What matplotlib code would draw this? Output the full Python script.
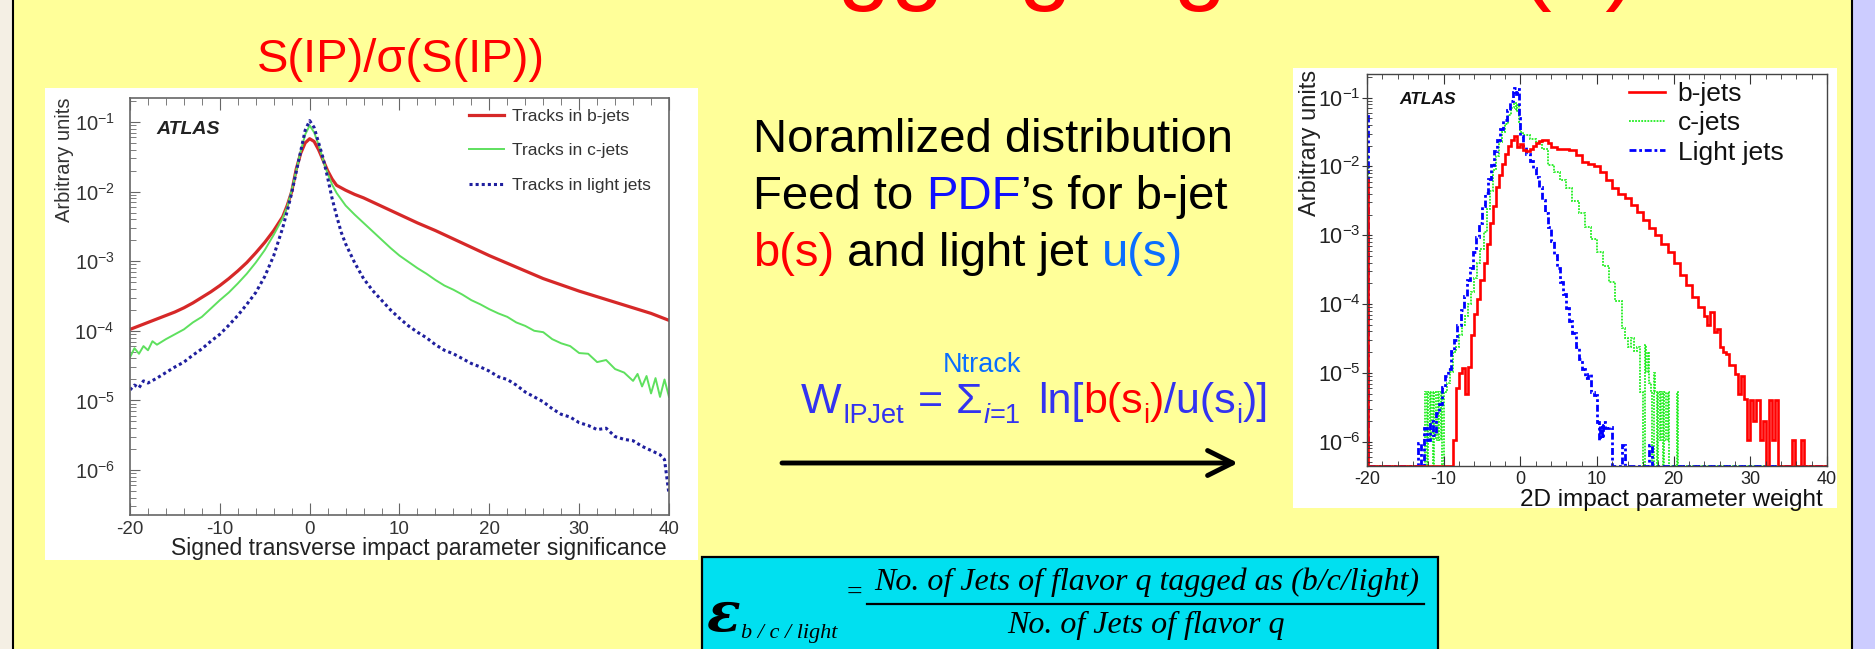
import numpy as np
import matplotlib
matplotlib.use("Agg")
import matplotlib.pyplot as plt
from matplotlib.patches import Rectangle
from matplotlib.lines import Line2D
from matplotlib.ticker import MultipleLocator, LogLocator, FixedLocator, FixedFormatter, NullFormatter

plt.rcParams["font.family"] = ["Liberation Sans", "DejaVu Sans"]
plt.rcParams["mathtext.fontset"] = "custom"
plt.rcParams["mathtext.rm"] = "Liberation Sans"
plt.rcParams["mathtext.it"] = "Liberation Sans:italic"
plt.rcParams["mathtext.bf"] = "Liberation Sans:bold"
plt.rcParams["mathtext.default"] = "regular"
plt.rcParams["axes.unicode_minus"] = False

# signed IP significance, log10 of arbitrary units
sig_x_b = [-20, -19, -18, -17, -16, -15, -14, -13, -12, -11, -10, -9, -8, -7, -6, -5, -4, -3,
           -2.5, -2, -1.5, -1, -0.5, 0, 0.5, 1, 1.5, 2, 2.5, 3, 4, 5, 6, 7, 8, 9, 10,
           12, 14, 16, 18, 20, 22, 24, 26, 28, 30, 32, 34, 36, 38, 40]
sig_b = [-3.98, -3.93, -3.88, -3.83, -3.78, -3.73, -3.67, -3.60, -3.52, -3.44, -3.35, -3.25, -3.14, -3.02, -2.88, -2.73, -2.56, -2.36,
         -2.20, -2.00, -1.68, -1.45, -1.30, -1.24, -1.28, -1.40, -1.55, -1.70, -1.82, -1.91,
         -1.98, -2.04, -2.09, -2.15, -2.21, -2.27, -2.33,
         -2.45, -2.56, -2.68, -2.80, -2.92, -3.03, -3.14, -3.25, -3.34, -3.43, -3.51, -3.59, -3.67, -3.75, -3.85]

sig_x_c = [-20, -19.5, -19, -18.5, -18, -17.5, -17, -16, -15, -14, -13, -12, -11, -10, -9, -8, -7, -6, -5, -4, -3,
           -2.5, -2, -1.5, -1, -0.5, 0, 0.5, 1, 1.5, 2, 2.5, 3,
           4, 5, 6, 7, 8, 9, 10, 11, 12, 13, 14, 15, 16, 17, 18, 19, 20, 21, 22, 23, 24, 25, 26, 27, 28, 29, 30,
           31, 32, 33, 34, 35, 36, 36.5, 37, 37.5, 38, 38.5, 39, 39.5, 40]
sig_c = [-4.38, -4.25, -4.33, -4.22, -4.28, -4.15, -4.20, -4.12, -4.05, -3.98, -3.88, -3.80, -3.68, -3.56, -3.45, -3.32, -3.18, -3.02, -2.84, -2.62, -2.38,
         -2.22, -1.98, -1.70, -1.42, -1.18, -1.05, -1.15, -1.33, -1.55, -1.74, -1.90, -2.02,
         -2.20, -2.33, -2.45, -2.57, -2.69, -2.81, -2.92, -3.01, -3.10, -3.18, -3.27, -3.35, -3.41, -3.48, -3.56, -3.62, -3.69,
         -3.75, -3.80, -3.88, -3.93, -4.00, -4.02, -4.12, -4.18, -4.22, -4.32,
         -4.33, -4.45, -4.42, -4.55, -4.60, -4.72, -4.62, -4.80, -4.65, -4.90, -4.68, -4.95, -4.70, -4.95]

sig_x_l = [-20, -19.5, -19, -18.5, -18, -17, -16, -15, -14, -13, -12, -11, -10, -9, -8, -7, -6, -5, -4, -3,
           -2.5, -2, -1.5, -1, -0.5, 0, 0.5, 1, 1.5, 2, 2.5, 3, 3.5, 4,
           5, 6, 7, 8, 9, 10, 11, 12, 13, 14, 15, 16, 17, 18, 19, 20, 21, 22, 23, 24, 25, 26, 27, 28, 29, 30,
           31, 32, 33, 34, 35, 36, 37, 38, 39, 39.5, 40]
sig_l = [-4.85, -4.78, -4.82, -4.72, -4.75, -4.68, -4.60, -4.52, -4.45, -4.35, -4.26, -4.15, -4.05, -3.92, -3.78, -3.62, -3.45, -3.22, -2.92, -2.52,
         -2.28, -2.02, -1.72, -1.42, -1.12, -0.98, -1.08, -1.30, -1.52, -1.80, -2.10, -2.35, -2.58, -2.75,
         -3.02, -3.25, -3.42, -3.56, -3.70, -3.82, -3.93, -4.02, -4.10, -4.20, -4.28, -4.33, -4.40, -4.47, -4.52, -4.58,
         -4.66, -4.70, -4.78, -4.88, -4.95, -5.02, -5.12, -5.20, -5.24, -5.32,
         -5.36, -5.42, -5.40, -5.52, -5.56, -5.58, -5.66, -5.72, -5.78, -5.85, -6.35]

sig_labels = ["Tracks in b-jets", "Tracks in c-jets", "Tracks in light jets"]

# 2D IP weight histograms: bin edges and log10 contents (None = empty bin)
w_edges_b = [-20, -19.9, -8.8, -8.4, -8.0, -7.6, -7.2, -6.8, -6.4, -6.0, -5.6, -5.2, -4.8, -4.4, -4.0, -3.6, -3.2,
             -2.8, -2.4, -2.0, -1.6, -1.2, -0.8, -0.4, 0.0, 0.4, 0.8, 1.2, 1.6, 2.0, 2.4, 2.8, 3.2, 3.6, 4.0,
             4.8, 5.6, 6.4, 7.2, 8.0, 8.8, 9.6, 10.4, 11.2, 12.0, 12.8, 13.6, 14.4, 15.2, 16.0, 16.8, 17.6,
             18.4, 19.2, 20.0, 20.8, 21.6, 22.4, 23.2, 24.0, 24.4, 24.8, 25.2, 25.6, 26.0, 26.4, 26.8, 27.2,
             27.6, 28.0, 28.4, 28.8, 29.2, 29.6, 30.0, 30.4, 30.8, 31.2, 31.6, 32.0, 32.4, 32.8, 33.2, 33.6,
             35.4, 35.8, 36.6, 37.0, 40]
w_b = [-2.2, None, -5.98,
       -5.22, -5.00, -4.93, -5.30, -4.92, -4.45, -4.15, -3.92, -3.65, -3.40, -3.12, -2.82, -2.58, -2.30, -2.12,
       -1.96, -1.82, -1.70, -1.62, -1.56, -1.72, -1.68, -1.76, -1.78, -1.74, -1.70, -1.66, -1.63, -1.61, -1.62, -1.66,
       -1.72, -1.75, -1.74, -1.76, -1.84, -1.93, -1.97, -2.00, -2.08, -2.20, -2.32, -2.40, -2.46, -2.56, -2.66,
       -2.78, -2.90, -3.00, -3.12, -3.24, -3.40, -3.58, -3.72, -3.90, -4.04,
       -4.18, -4.30, -4.12, -4.40, -4.36, -4.62, -4.70, -4.72, -4.88, -4.88, -5.02, -5.30, -5.05, -5.38,
       -5.98, -5.40, -5.70, -5.40, -5.98, -5.70, None, -5.40, -5.98, -5.40,
       None, -5.98, None, -5.98, None]

w_edges_c = [-20, -19.9, -12.4, -12.2, -12.0, -11.8, -11.6, -11.4, -11.2, -11.0, -10.8, -10.6, -10.4, -10.2, -10.0,
             -9.6, -9.2, -8.8, -8.4, -8.0, -7.6, -7.2, -6.8, -6.4, -6.0, -5.6, -5.2, -4.8, -4.4, -4.0, -3.6, -3.2,
             -2.8, -2.4, -2.0, -1.6, -1.2, -0.8, -0.6, -0.4, -0.2, 0.0, 0.4, 1.2, 2.0, 2.8, 3.6, 4.4, 5.2, 6.0,
             6.8, 7.6, 8.4, 9.2, 10.0, 10.8, 11.6, 12.4, 13.2, 13.6, 14.0, 14.4, 14.8, 15.2, 15.6, 16.0, 16.2,
             16.4, 16.6, 16.8, 17.0, 17.2, 17.4, 17.6, 17.8, 18.0, 18.2, 18.4, 18.6, 18.8, 19.0, 19.2, 19.4,
             20.4, 20.6, 40]
w_c = [-1.85, None,
       -5.28, None, -5.28, -5.98, -5.28, None, -5.28, -5.98, -5.28, -5.98, -5.28, None,
       -5.28, -5.15, -4.98, -4.70, -4.62, -4.45, -4.30, -4.18, -4.00, -3.82, -3.62, -3.40, -3.20, -2.95,
       -2.62, -2.35, -2.05, -1.85, -1.65, -1.50, -1.38, -1.25, -1.15,
       -1.08, -1.20, -1.10, -1.35, -1.50, -1.54,
       -1.60, -1.64, -1.74, -1.98, -2.08, -2.20, -2.32, -2.50, -2.68, -2.88, -3.05, -3.25, -3.45, -3.68, -3.95,
       -4.35, -4.50, -4.62, -4.50, -4.68, -4.62, -5.28,
       None, -4.60, -4.98, -4.70, -5.15, -5.28, None, -5.00, -5.28, None, -5.28, -5.98, -5.28, None,
       -5.28, -5.98, -5.28, None, -5.28, None]

w_edges_l = [-20, -19.9, -13.4, -13.0, -12.6, -12.2, -11.8, -11.4, -11.0, -10.6, -10.2, -9.8, -9.4, -9.0, -8.6,
             -8.2, -7.8, -7.4, -7.0, -6.6, -6.2, -5.8, -5.4, -5.0, -4.6, -4.2, -3.8, -3.4, -3.0, -2.6, -2.2,
             -1.8, -1.4, -1.0, -0.8, -0.6, -0.4, -0.2, 0.0, 0.4, 0.8, 1.2, 1.6, 2.0, 2.4, 2.8, 3.2, 3.6, 4.0,
             4.4, 4.8, 5.2, 5.6, 6.0, 6.4, 6.8, 7.2, 7.6, 8.0, 8.4, 8.8, 9.2, 9.6, 10.0, 10.2, 10.4, 10.6,
             10.8, 11.0, 11.6, 12.0, 13.2, 13.6, 16.8, 17.2, 40]
w_l = [-1.27, None,
       -6.02, None, -5.80, -5.98, -5.70, -5.90, -5.58, -5.45, -5.20, -5.05, -4.95, -4.68, -4.52, -4.30, -4.08,
       -3.88, -3.65, -3.48, -3.25, -3.02, -2.82, -2.58, -2.38, -2.18, -1.98, -1.78, -1.62, -1.46, -1.32, -1.18, -1.05,
       -0.92, -0.86, -0.95, -0.88, -1.30,
       -1.55, -1.72, -1.82, -1.92, -2.02, -2.15, -2.30, -2.48, -2.68, -2.88, -3.08, -3.28, -3.48, -3.68, -3.86,
       -4.05, -4.24, -4.42, -4.62, -4.80, -4.95, -5.08, -5.02, -5.28, -5.32,
       -5.72, -5.98, -5.75, -5.95, -5.72,
       -5.80, -5.78, None, -6.05, None, -6.05, None]

w_labels = ["b-jets", "c-jets", "Light jets"]

decades = [1e-6, 1e-5, 1e-4, 1e-3, 1e-2, 1e-1]
decade_labels = ["$10^{-6}$", "$10^{-5}$", "$10^{-4}$", "$10^{-3}$", "$10^{-2}$", "$10^{-1}$"]

YELLOW = "#ffff99"
RED = "#ff0000"
BLUE = "#1010ff"
AZURE = "#0a6eff"
FBLUE = "#3333f0"

W, H = 1875, 649
fig = plt.figure(figsize=(W / 100, H / 100), dpi=100, facecolor=YELLOW)
bg = fig.add_axes([0, 0, 1, 1])
bg.set_xlim(0, W)
bg.set_ylim(H, 0)
bg.axis("off")
rend = fig.canvas.get_renderer()


def px_axes(l, t, r, b):
    return fig.add_axes([l / W, 1 - b / H, (r - l) / W, (b - t) / H])


def to_vals(exps, floor):
    return np.array([floor if e is None else 10.0 ** e for e in exps])


# slide frame
bg.add_patch(Rectangle((0, 0), 12, H, fc="#f4efe4", ec="none"))
bg.plot([13, 13], [0, H], color="black", lw=1.5)
bg.add_patch(Rectangle((1853, 0), 22, H, fc="#ccccff", ec="none"))
bg.plot([1852, 1852], [0, H], color="black", lw=1.5)

bg.text(672, -8, "b-tagging algorithm (II)", color=RED, fontsize=69, va="baseline")
bg.text(257, 72, "S(IP)/σ(S(IP))", color=RED, fontsize=34, va="baseline")

# ---------------- left panel ----------------
bg.add_patch(Rectangle((45, 88), 653, 472, fc="white", ec="none"))
ax1 = px_axes(130, 98, 669, 515)
ax1.set_facecolor("white")
lb, = ax1.plot(sig_x_b, 10.0 ** np.array(sig_b), color="#d62828", lw=2.3)
lc, = ax1.plot(sig_x_c, 10.0 ** np.array(sig_c), color="#5ee05e", lw=1.4)
ll, = ax1.plot(sig_x_l, 10.0 ** np.array(sig_l), color="#1f1f9e", lw=2.2, ls=(0, (1, 1)))
ax1.set_yscale("log")
ax1.set_xlim(-20, 40)
ax1.set_ylim(10 ** -6.647, 10 ** -0.655)
ax1.xaxis.set_major_locator(MultipleLocator(10))
ax1.xaxis.set_minor_locator(MultipleLocator(2))
ax1.yaxis.set_major_locator(FixedLocator(decades))
ax1.yaxis.set_major_formatter(FixedFormatter(decade_labels))
ax1.yaxis.set_minor_locator(LogLocator(base=10, subs=np.arange(2, 10)))
ax1.yaxis.set_minor_formatter(NullFormatter())
ax1.tick_params(axis="x", which="both", direction="in", top=True, color="#666666",
                labelsize=13.5, labelcolor="#333333", pad=4.5)
ax1.tick_params(axis="x", which="major", length=8.5)
ax1.tick_params(axis="x", which="minor", length=5)
ax1.tick_params(axis="y", which="both", direction="in", color="#666666",
                labelsize=14.5, labelcolor="#333333", pad=11)
ax1.tick_params(axis="y", which="major", length=7)
ax1.tick_params(axis="y", which="minor", length=4.3)
for s in ax1.spines.values():
    s.set_color("#666666")
    s.set_linewidth(1.2)
ax1.text(156, 130, "ATLAS", transform=bg.transData, fontsize=14, weight="bold",
         style="italic", va="center", color="#222222")
ax1.legend([lb, lc, ll], sig_labels, loc="upper left", bbox_to_anchor=(469, 109),
           bbox_transform=bg.transData, frameon=False, borderpad=0, borderaxespad=0,
           fontsize=12.5, handlelength=2.0, handletextpad=0.45, labelspacing=1.1,
           labelcolor="#333333")
bg.text(667, 555, "Signed transverse impact parameter significance", ha="right",
        va="baseline", fontsize=16.5, color="#222222")
bg.text(65, 98, "Arbitrary units", rotation=90, ha="center", va="top", fontsize=14.5,
        color="#333333")

# ---------------- right panel ----------------
bg.add_patch(Rectangle((1293, 68), 544, 440, fc="white", ec="none"))
ax2 = px_axes(1367, 74, 1827, 466)
ax2.set_facecolor("white")
ymin_r = 10 ** -6.353
ax2.stairs(to_vals(w_c, ymin_r), w_edges_c, baseline=None, color="#22ee22", lw=1.3, ls=(0, (1, 0.7)))
ax2.stairs(to_vals(w_l, ymin_r), w_edges_l, baseline=None, color="#0000ff", lw=2.0, ls=(0, (2.5, 1, 1, 1)))
ax2.stairs(to_vals(w_b, ymin_r), w_edges_b, baseline=None, color=RED, lw=1.9)
ax2.set_yscale("log")
ax2.set_xlim(-20, 40)
ax2.set_ylim(ymin_r, 10 ** -0.656)
ax2.xaxis.set_major_locator(MultipleLocator(10))
ax2.xaxis.set_minor_locator(MultipleLocator(2))
ax2.yaxis.set_major_locator(FixedLocator(decades))
ax2.yaxis.set_major_formatter(FixedFormatter(decade_labels))
ax2.yaxis.set_minor_locator(LogLocator(base=10, subs=np.arange(2, 10)))
ax2.yaxis.set_minor_formatter(NullFormatter())
ax2.tick_params(axis="x", which="both", direction="in", top=True, color="#333333",
                labelsize=13, labelcolor="#222222", pad=3.5)
ax2.tick_params(axis="x", which="major", length=7)
ax2.tick_params(axis="x", which="minor", length=3.6)
ax2.tick_params(axis="y", which="major", direction="inout", length=7, color="#333333",
                labelsize=15.5, labelcolor="#222222", pad=1)
ax2.tick_params(axis="y", which="minor", direction="in", length=3.6, color="#333333")
for s in ax2.spines.values():
    s.set_color("#444444")
    s.set_linewidth(1.0)
ax2.text(1399, 100, "ATLAS", transform=bg.transData, fontsize=12.5, weight="bold",
         style="italic", va="center", color="#111111")
hb = Line2D([], [], color=RED, lw=1.9)
hc = Line2D([], [], color="#22ee22", lw=1.3, ls=(0, (1, 0.7)))
hl = Line2D([], [], color="#0000ff", lw=2.0, ls=(0, (2.5, 1, 1, 1)))
ax2.legend([hb, hc, hl], w_labels, loc="upper left", bbox_to_anchor=(1629, 82),
           bbox_transform=bg.transData, frameon=False, borderpad=0, borderaxespad=0,
           fontsize=19, handlelength=1.35, handletextpad=0.5, labelspacing=0.2,
           labelcolor="#111111")
bg.text(1823, 506, "2D impact parameter weight", ha="right", va="baseline", fontsize=17.5,
        color="#111111")
bg.text(1310, 70, "Arbitrary units", rotation=90, ha="center", va="top", fontsize=17,
        color="#222222")


# ---------------- middle text ----------------
def text_runs(x, y, parts, **kw):
    def width(s):
        t = bg.text(0, 0, s, **kw)
        w = t.get_window_extent(renderer=rend).width
        t.remove()
        return w
    done = ""
    for s, c in parts:
        dx = width(done + "I") - width("I") if done else 0
        bg.text(x + dx, y, s, color=c, va="baseline", **kw)
        done += s


text_runs(753, 152, [("Noramlized distribution", "black")], fontsize=34)
text_runs(753, 209, [("Feed to ", "black"), ("PDF", BLUE), ("\u2019s for b-jet", "black")], fontsize=34)
text_runs(753, 266, [("b(s)", RED), (" and light jet ", "black"), ("u(s)", AZURE)], fontsize=34)

# W_IPJet formula, pieces chained left to right
pieces = [("W", FBLUE, 31, 0, "normal", 1),
          ("IPJet", FBLUE, 19.5, 10, "normal", 14),
          ("=", FBLUE, 31, 0, "normal", 12),
          ("\u03a3", FBLUE, 31, 0, "normal", 2),
          ("i", FBLUE, 19.5, 10, "italic", 0),
          ("=1", FBLUE, 19.5, 10, "normal", 17),
          ("ln[", FBLUE, 31, 0, "normal", 0),
          ("b(s", RED, 31, 0, "normal", 0),
          ("i", RED, 19.5, 10, "normal", 0),
          (")", RED, 31, 0, "normal", 1),
          ("/u(s", FBLUE, 31, 0, "normal", 0),
          ("i", FBLUE, 19.5, 10, "normal", 0),
          (")]", FBLUE, 31, 0, "normal", 0)]
x = 801
sigma_x = x
for txt, col, size, dy, style, gap in pieces:
    if txt == "\u03a3":
        sigma_x = x
    t = bg.text(x, 413 + dy, txt, color=col, fontsize=size, style=style, va="baseline")
    x += t.get_window_extent(renderer=rend).width + gap
bg.text(sigma_x - 13, 372, "Ntrack", color=AZURE, fontsize=19.5, va="baseline")

bg.annotate("", xy=(1238, 463), xytext=(782, 463),
            arrowprops=dict(arrowstyle="->,head_length=0.9,head_width=0.45", lw=3.5,
                            color="black", shrinkA=0, shrinkB=0, mutation_scale=20))

# ---------------- efficiency box ----------------
bg.add_patch(Rectangle((702, 557), 736, 100, fc="#00e0f0", ec="black", lw=1.6, clip_on=False))
serif = dict(family="Liberation Serif", style="italic", va="baseline", color="black")
eps = bg.text(706, 631, "\u03b5", fontsize=40, weight="bold", family="DejaVu Serif",
              style="italic", va="baseline", color="black")
ex = 706 + eps.get_window_extent(renderer=rend).width + 1
sub = bg.text(ex, 638, "b / c / light", fontsize=16, **serif)
ex += sub.get_window_extent(renderer=rend).width + 9
eq = bg.text(ex, 600, "=", fontsize=20, family="Liberation Serif", va="baseline")
ex += eq.get_window_extent(renderer=rend).width + 5
num = bg.text(ex + 7, 590, "No. of Jets of flavor q tagged as (b/c/light)", fontsize=23, **serif)
nw = num.get_window_extent(renderer=rend).width
bg.plot([ex, ex + nw + 12], [604, 604], color="black", lw=1.6)
bg.text(ex + 7 + nw / 2, 633, "No. of Jets of flavor q", fontsize=23, ha="center", **serif)

fig.savefig("out.png", dpi=100, facecolor=YELLOW)
